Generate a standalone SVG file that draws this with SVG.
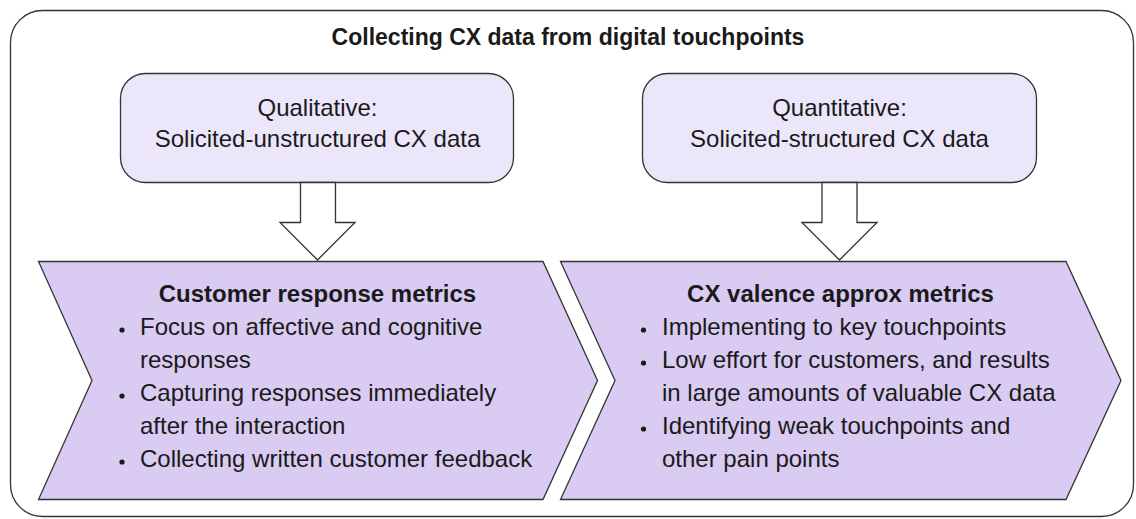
<svg xmlns="http://www.w3.org/2000/svg" width="1136" height="519" viewBox="0 0 1136 519">
  <style>
    .frame { fill: #ffffff; stroke: #333333; stroke-width: 1.3; }
    .src { fill: #ECE6FB; stroke: #333333; stroke-width: 1.3; }
    .step { fill: #D9CBF2; stroke: #333333; stroke-width: 1.3; }
    .flow { fill: #ffffff; stroke: #333333; stroke-width: 1.3; stroke-linejoin: miter; }
    text { font-family: "Liberation Sans", Arial, sans-serif; fill: #1a1a1a; }
    .title { font-size: 23px; font-weight: bold; text-anchor: middle; }
    .head { font-size: 24px; font-weight: bold; text-anchor: middle; }
    .lbl { font-size: 24px; text-anchor: middle; }
    .item { font-size: 24px; }
    .dot { fill: #1a1a1a; }
  </style>

  <!-- outer container -->
  <g id="container">
    <rect class="frame" x="10.5" y="10.5" width="1123" height="506" rx="32" ry="32"/>
    <text class="title" x="568" y="45">Collecting CX data from digital touchpoints</text>
  </g>

  <!-- source boxes -->
  <g id="qualitative">
    <rect class="src" x="120.5" y="73.5" width="393" height="109" rx="25" ry="25"/>
    <text class="lbl" x="317.5" y="116">Qualitative:</text>
    <text class="lbl" x="317.5" y="147">Solicited-unstructured CX data</text>
  </g>
  <g id="quantitative">
    <rect class="src" x="642.5" y="73.5" width="394" height="109" rx="25" ry="25"/>
    <text class="lbl" x="839.5" y="116">Quantitative:</text>
    <text class="lbl" x="839.5" y="147">Solicited-structured CX data</text>
  </g>

  <!-- block arrows -->
  <g id="connectors">
    <polygon class="flow" points="300.5,182.5 335.5,182.5 335.5,222.5 355,222.5 317.5,260 280,222.5 300.5,222.5"/>
    <polygon class="flow" points="822,182.5 857,182.5 857,222.5 877,222.5 839.5,260 802,222.5 822,222.5"/>
  </g>

  <!-- metric steps -->
  <g id="customer-response-metrics">
    <polygon class="step" points="38.5,261.5 543,261.5 597.5,380.5 543,499.5 38.5,499.5 92,380.5"/>
    <text class="head" x="317.5" y="301.5">Customer response metrics</text>
    <circle class="dot" cx="122" cy="330" r="2.6"/>
    <text class="item" x="140" y="334.5">Focus on affective and cognitive</text>
    <text class="item" x="140" y="367.5">responses</text>
    <circle class="dot" cx="122" cy="396" r="2.6"/>
    <text class="item" x="140" y="400.5">Capturing responses immediately</text>
    <text class="item" x="140" y="433.5">after the interaction</text>
    <circle class="dot" cx="122" cy="462" r="2.6"/>
    <text class="item" x="140" y="466.5">Collecting written customer feedback</text>
  </g>
  <g id="cx-valence-approx-metrics">
    <polygon class="step" points="560.5,261.5 1066,261.5 1121,380.5 1066,499.5 560.5,499.5 615,380.5"/>
    <text class="head" x="840.5" y="301.5">CX valence approx metrics</text>
    <circle class="dot" cx="643.5" cy="330" r="2.6"/>
    <text class="item" x="662" y="334.5">Implementing to key touchpoints</text>
    <circle class="dot" cx="643.5" cy="363" r="2.6"/>
    <text class="item" x="662" y="367.5">Low effort for customers, and results</text>
    <text class="item" x="662" y="400.5">in large amounts of valuable CX data</text>
    <circle class="dot" cx="643.5" cy="429" r="2.6"/>
    <text class="item" x="662" y="433.5">Identifying weak touchpoints and</text>
    <text class="item" x="662" y="466.5">other pain points</text>
  </g>
</svg>
